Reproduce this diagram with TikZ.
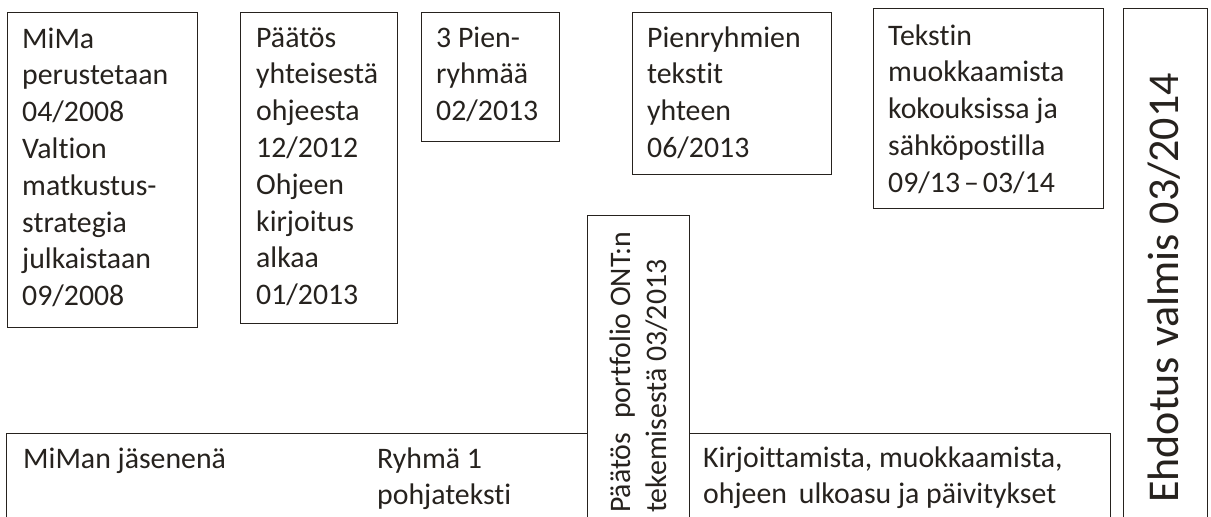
\documentclass[tikz,border=0pt]{standalone}
\usepackage{fontspec}
\setmainfont[Ligatures=CommonOff]{Carlito}
\definecolor{ink}{RGB}{38,34,30}
\newcommand{\stk}[1]{\begin{tabular}[t]{@{}l@{}}#1\end{tabular}}
\begin{document}
\begin{tikzpicture}[x=1pt,y=-1pt,
  box/.style={draw=ink,line width=1.3pt,fill=white,rectangle,inner sep=0pt,anchor=north west},
  txt/.style={text=ink,inner sep=0pt,anchor=base west,font=\fontsize{29.8}{36.8}\selectfont}]
\useasboundingbox (0,0) rectangle (1211,517);
\clip (0,0) rectangle (1211,517);
% boxes
\node[box,minimum width=190pt,minimum height=315pt] (b1) at (7,12) {};
\node[box,minimum width=157pt,minimum height=311pt] (b2) at (240,12) {};
\node[box,minimum width=138pt,minimum height=129pt] (b3) at (421,12) {};
\node[box,minimum width=199pt,minimum height=162pt] (b4) at (632,12) {};
\node[box,minimum width=230pt,minimum height=200pt] (b5) at (873,8) {};
\node[box,minimum width=84pt,minimum height=540pt] (b6) at (1123,8) {};
\node[box,minimum width=1104pt,minimum height=120pt] (bot) at (6,433) {};
\node[box,minimum width=102pt,minimum height=330pt] (vert) at (587,215) {};
% texts
\node[txt] (t1) at (22,48) {\stk{MiMa\\perustetaan\\04/2008\\Valtion\\matkustus-\\strategia\\julkaistaan\\09/2008}};
\node[txt] (t2) at (256,47) {\stk{Päätös\\yhteisestä\\ohjeesta\\12/2012\\Ohjeen\\kirjoitus\\alkaa\\01/2013}};
\node[txt] (t3) at (436,47) {\stk{3 Pien-\\ryhmää\\02/2013}};
\node[txt] (t4) at (647,47) {\stk{Pienryhmien\\tekstit\\yhteen\\06/2013}};
\node[txt] (t5) at (888,45) {\stk{Tekstin\\muokkaamista\\kokouksissa ja\\sähköpostilla\\09/13\hspace{4pt}–\hspace{4pt}03/14}};
\node[txt,font=\fontsize{44}{50}\selectfont,rotate=90] (t6) at (1178,503) {Ehdotus valmis 03/2014};
\node[txt] (t7) at (23,468) {MiMan jäsenenä};
\node[txt] (t8) at (377,468) {\stk{Ryhmä 1\\pohjateksti}};
\node[txt,rotate=90] (t9) at (630,513) {\stk{Päätös\hspace{14pt}portfolio ONT:n\\tekemisestä 03/2013}};
\node[txt] (t10) at (703,467) {\stk{Kirjoittamista, muokkaamista,\\ohjeen\hspace{12pt}ulkoasu ja päivitykset}};
\end{tikzpicture}
\end{document}
